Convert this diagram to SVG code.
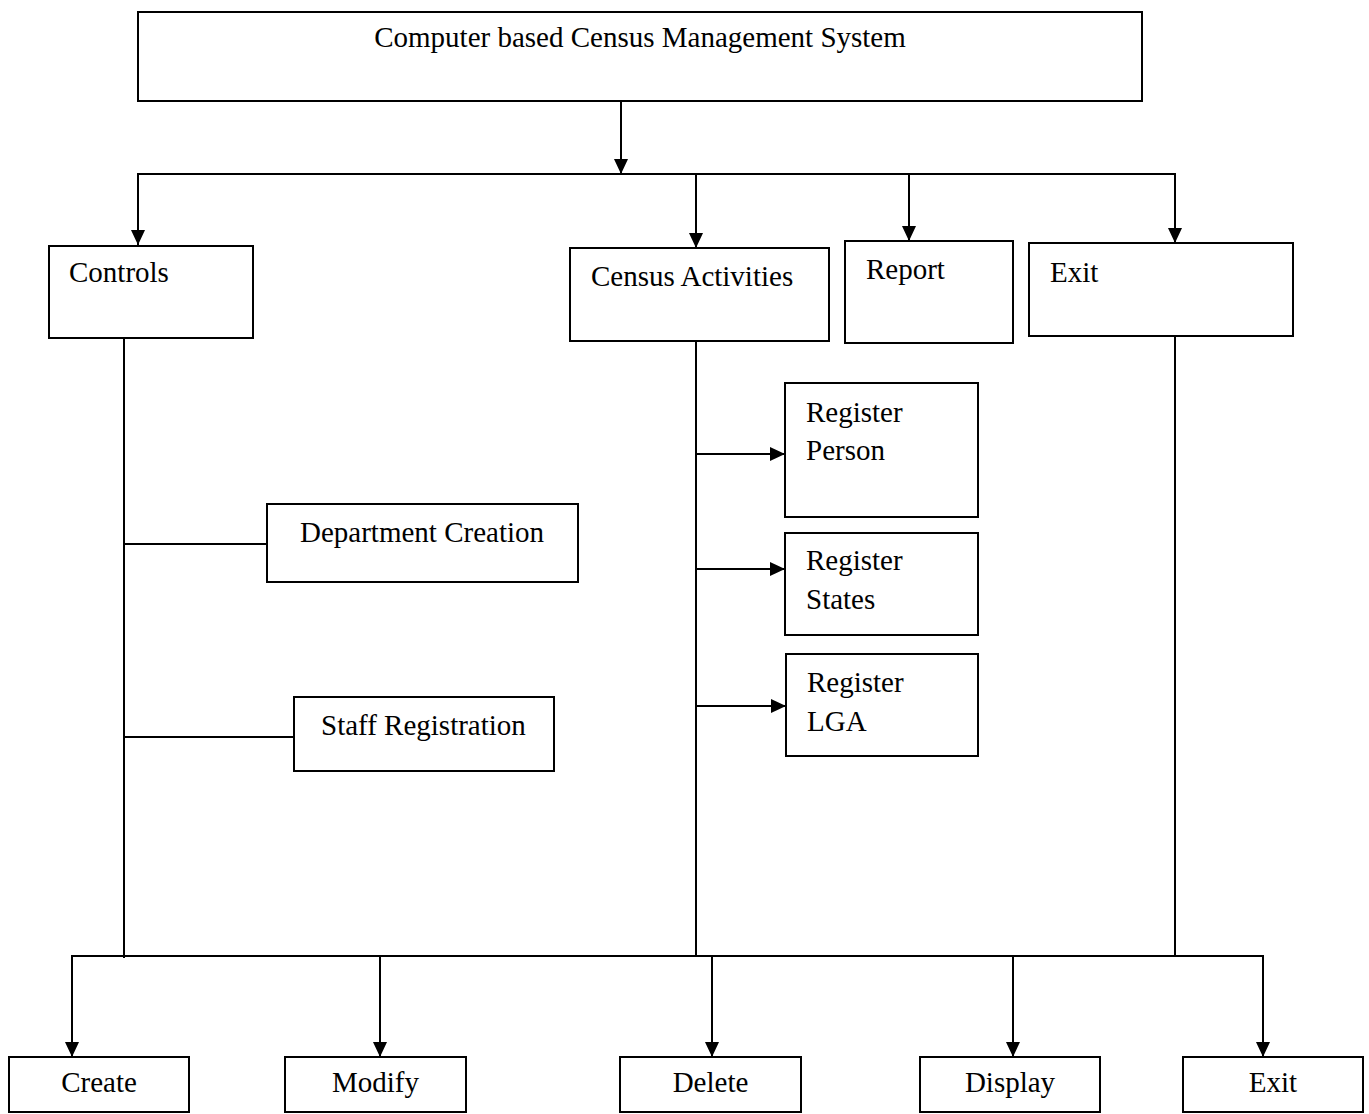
<svg xmlns="http://www.w3.org/2000/svg" width="1369" height="1114" viewBox="0 0 1369 1114">
<defs>
<marker id="ah" markerUnits="userSpaceOnUse" markerWidth="16" markerHeight="14" refX="15" refY="7" orient="auto">
<path d="M0,0 L15,7 L0,14 z" fill="#000"/>
</marker>
<style>
rect{fill:#fff;stroke:#000;stroke-width:2}
text{font-family:"Liberation Serif","Times New Roman",serif;font-size:29px;fill:#000}
.c{text-anchor:middle}
.l{fill:none;stroke:#000;stroke-width:2}
.a{fill:none;stroke:#000;stroke-width:2;marker-end:url(#ah)}
</style>
</defs>
<rect x="0" y="0" width="1369" height="1114" style="fill:#fff;stroke:none"/>
<g id="connectors">
<line class="a" x1="621" y1="101" x2="621" y2="174"/>
<line class="l" x1="137" y1="174" x2="1175" y2="174"/>
<line class="a" x1="138" y1="174" x2="138" y2="245"/>
<line class="a" x1="696" y1="174" x2="696" y2="248"/>
<line class="a" x1="909" y1="174" x2="909" y2="241"/>
<line class="a" x1="1175" y1="173" x2="1175" y2="243"/>
<line class="l" x1="124" y1="338" x2="124" y2="958"/>
<line class="l" x1="124" y1="544" x2="267" y2="544"/>
<line class="l" x1="124" y1="737" x2="294" y2="737"/>
<line class="l" x1="696" y1="341" x2="696" y2="956"/>
<line class="a" x1="696" y1="454" x2="785" y2="454"/>
<line class="a" x1="696" y1="569" x2="785" y2="569"/>
<line class="a" x1="696" y1="706" x2="786" y2="706"/>
<line class="l" x1="1175" y1="336" x2="1175" y2="956"/>
<line class="l" x1="71" y1="956" x2="1264" y2="956"/>
<line class="a" x1="72" y1="956" x2="72" y2="1057"/>
<line class="a" x1="380" y1="956" x2="380" y2="1057"/>
<line class="a" x1="712" y1="956" x2="712" y2="1057"/>
<line class="a" x1="1013" y1="956" x2="1013" y2="1057"/>
<line class="a" x1="1263" y1="956" x2="1263" y2="1057"/>
</g>
<g id="n-title"><rect x="138" y="12" width="1004" height="89"/><text x="640" y="47" class="c">Computer based Census Management System</text></g>
<g id="n-controls"><rect x="49" y="246" width="204" height="92"/><text x="69" y="282">Controls</text></g>
<g id="n-census"><rect x="570" y="248" width="259" height="93"/><text x="591" y="286">Census Activities</text></g>
<g id="n-report"><rect x="845" y="241" width="168" height="102"/><text x="866" y="279">Report</text></g>
<g id="n-exit-top"><rect x="1029" y="243" width="264" height="93"/><text x="1050" y="282">Exit</text></g>
<g id="n-dept"><rect x="267" y="504" width="311" height="78"/><text x="300" y="542">Department Creation</text></g>
<g id="n-staff"><rect x="294" y="697" width="260" height="74"/><text x="321" y="735">Staff Registration</text></g>
<g id="n-person"><rect x="785" y="383" width="193" height="134"/><text x="806" y="422">Register<tspan x="806" y="460">Person</tspan></text></g>
<g id="n-states"><rect x="785" y="533" width="193" height="102"/><text x="806" y="570">Register<tspan x="806" y="609">States</tspan></text></g>
<g id="n-lga"><rect x="786" y="654" width="192" height="102"/><text x="807" y="692">Register<tspan x="807" y="731">LGA</tspan></text></g>
<g id="n-create"><rect x="9" y="1057" width="180" height="55"/><text x="99" y="1092" class="c">Create</text></g>
<g id="n-modify"><rect x="285" y="1057" width="181" height="55"/><text x="375.5" y="1092" class="c">Modify</text></g>
<g id="n-delete"><rect x="620" y="1057" width="181" height="55"/><text x="710.5" y="1092" class="c">Delete</text></g>
<g id="n-display"><rect x="920" y="1057" width="180" height="55"/><text x="1010" y="1092" class="c">Display</text></g>
<g id="n-exit"><rect x="1183" y="1057" width="180" height="55"/><text x="1273" y="1092" class="c">Exit</text></g>
</svg>
